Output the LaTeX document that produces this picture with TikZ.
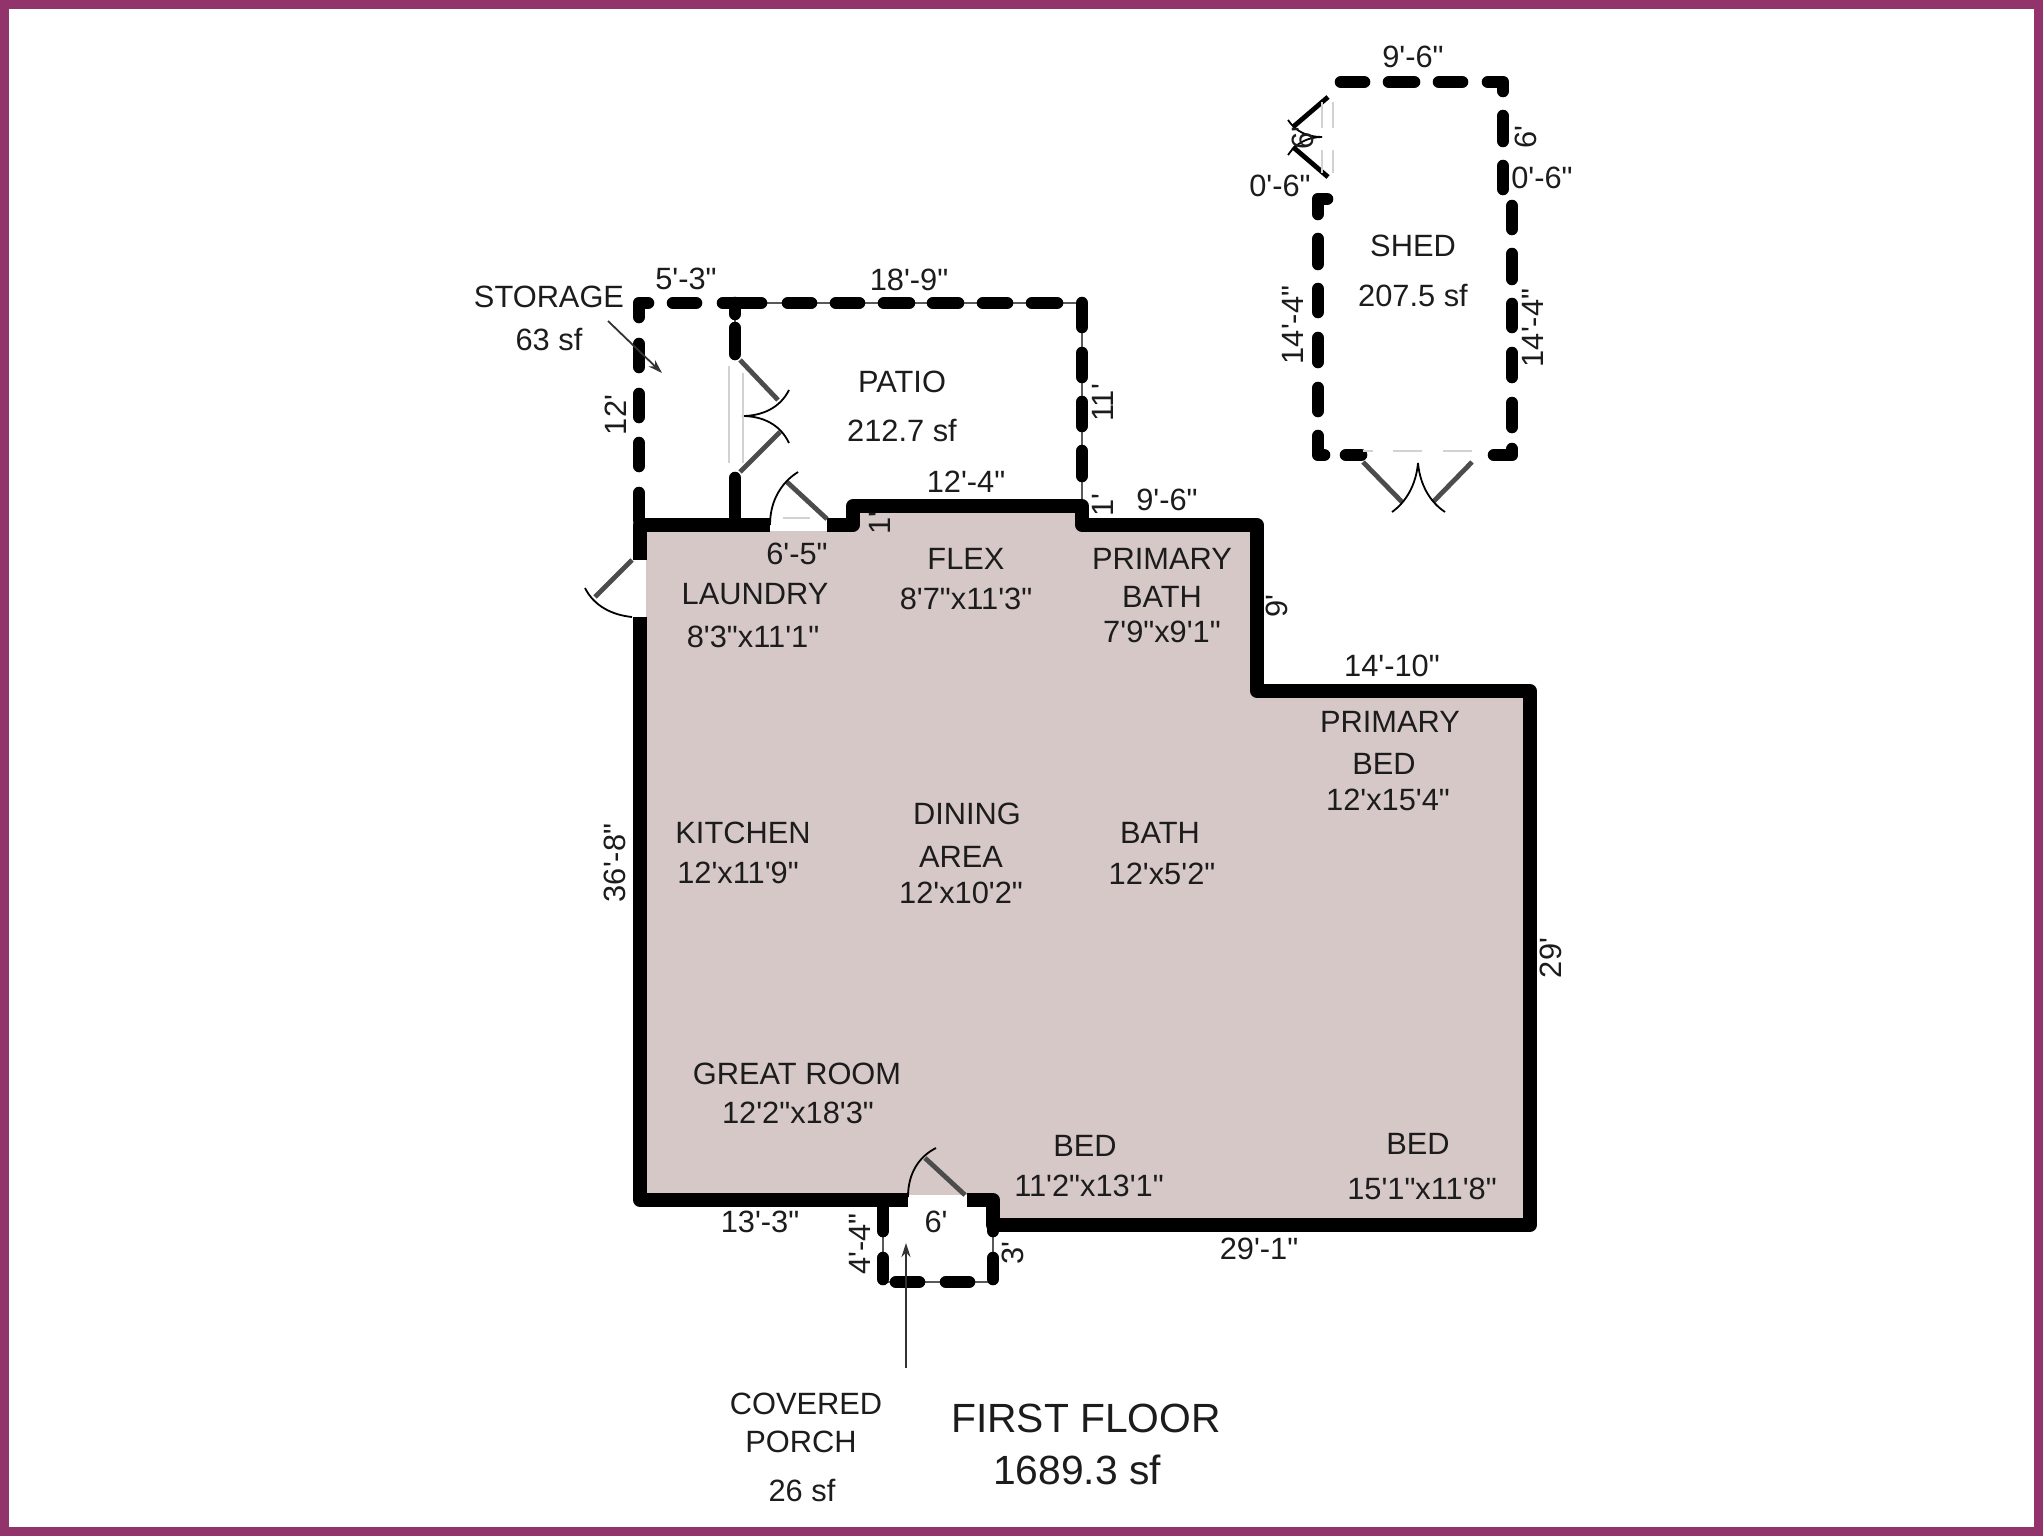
\documentclass[tikz,border=0pt]{standalone}
\usepackage{fontspec}
\usepackage{xcolor}
\usetikzlibrary{arrows.meta}
\newfontfamily\planfont{Liberation Sans}

\begin{document}
\begin{tikzpicture}[x=0.5pt,y=-0.5pt,
  planlabel/.style={font=\planfont\fontsize{15.4}{18}\selectfont,text=planink,inner sep=0pt,text height=11pt,text depth=0pt},
  sidelabel/.style={planlabel,rotate=90},
  floorlabel/.style={planlabel,font=\planfont\fontsize{20.4}{24}\selectfont,text height=14.6pt},
  solidwall/.style={line width=6.9pt,line join=round},
  dashwall/.style={line width=6.3pt,line cap=round,line join=round},
  thinwall/.style={line width=1pt,draw=gray!70!black},
  doorleaf/.style={line width=2.4pt,draw=black!70},
  doorswing/.style={line width=0.9pt},
  doorglass/.style={line width=0.8pt,draw=gray!35},
  pointer/.style={line width=0.9pt,draw=black!80,-{Stealth[length=7pt,width=4.5pt]}}]
\definecolor{planborder}{HTML}{93336B}
\definecolor{planfloor}{HTML}{D7C8C8}
\definecolor{planink}{HTML}{1C1C1C}
\useasboundingbox (0,0) rectangle (2044,1536);
\fill [white] (0,0) rectangle (2044,1536);
\draw [planborder,line width=4.5pt] (4.5,4.5) rectangle (2038,1531);

\fill [planfloor] (640,525) -- (853,525) -- (853,506) -- (1082,506) -- (1082,525) -- (1257,525) -- (1257,691) -- (1530,691) -- (1530,1225) -- (993,1225) -- (993,1200) -- (640,1200) -- cycle;
\fill [white] (770,519) rectangle (827,531);
\fill [white] (908,1195) rectangle (967,1207);
\fill [white] (634,560) rectangle (646,617);

\draw [thinwall] (717,303) -- (1082,303) -- (1082,500);
\draw [thinwall] (735,303) -- (735,330);
\draw [thinwall] (883,1207) -- (883,1282) -- (993,1282) -- (993,1207);

\draw [solidwall] (770,525) -- (640,525) -- (640,560);
\draw [solidwall] (640,617) -- (640,1200) -- (908,1200);
\draw [solidwall] (967,1200) -- (993,1200) -- (993,1225) -- (1530,1225) -- (1530,691) -- (1257,691) -- (1257,525) -- (1082,525) -- (1082,506) -- (853,506) -- (853,525) -- (827,525);

\draw [dashwall] (648,303) -- (639,303) -- (639,317);
\foreach \ya/\yb in {344/367,394/417,443/466,493/520}
  {\draw [dashwall] (639,\ya) -- (639,\yb);}
\foreach \xa/\xb in {673/696,723/761,788/811,836/859,884/909,933/958,983/1007,1032/1057}
  {\draw [dashwall] (\xa,303) -- (\xb,303);}
\foreach \ya/\yb in {303/314,328/354,478/517}
  {\draw [dashwall] (735,\ya) -- (735,\yb);}
\foreach \ya/\yb in {303/327,353/377,402/426,451/476}
  {\draw [dashwall] (1082,\ya) -- (1082,\yb);}
\draw [dashwall] (883,1205) -- (883,1231);
\draw [dashwall] (993,1205) -- (993,1231);
\foreach \xp in {883,993}
  {\draw [dashwall] (\xp,1258) -- (\xp,1279);}
\foreach \xa/\xb in {896/919,946/969}
  {\draw [dashwall] (\xa,1282) -- (\xb,1282);}

\foreach \xa/\xb in {1341/1364,1389/1414,1439/1462}
  {\draw [dashwall] (\xa,82) -- (\xb,82);}
\draw [dashwall] (1488,82) -- (1503,82) -- (1503,91);
\foreach \ya/\yb in {116/141,166/189}
  {\draw [dashwall] (1503,\ya) -- (1503,\yb);}
\foreach \ya/\yb in {206/229,254/279,304/327,353/377,403/427}
  {\draw [dashwall] (1512,\ya) -- (1512,\yb);}
\draw [dashwall] (1494,455) -- (1512,455) -- (1512,449);
\draw [dashwall] (1327,199) -- (1318,199) -- (1318,214);
\foreach \ya/\yb in {239/264,289/312,338/362,388/411}
  {\draw [dashwall] (1318,\ya) -- (1318,\yb);}
\draw [dashwall] (1318,436) -- (1318,455) -- (1324,455);
\draw [dashwall] (1346,455) -- (1361,455);

\draw [doorleaf] (827,519) -- (787,482);
\draw [doorswing] (770,525) .. controls (770,500) and (782,482) .. (798,472);
\draw [doorleaf] (632,560) -- (595,597);
\draw [doorswing] (632,617) .. controls (612,615) and (594,606) .. (585,588);
\draw [doorleaf] (965,1195) -- (925,1158);
\draw [doorswing] (908,1197) .. controls (908,1172) and (920,1156) .. (936,1148);
\draw [doorleaf] (740,360) -- (778,400);
\draw [doorleaf] (740,472) -- (780,432);
\draw [doorswing] (742,416) .. controls (762,416) and (780,408) .. (789,390);
\draw [doorswing] (742,416) .. controls (762,416) and (780,424) .. (789,443);
\draw [doorglass] (729,366) -- (729,463);
\draw [doorglass] (743,373) -- (743,463);
\draw [doorglass] (783,518) -- (810,518);

\draw [doorleaf] (1363,462) -- (1402,502);
\draw [doorleaf] (1472,462) -- (1433,502);
\draw [doorswing] (1418,463) .. controls (1416,485) and (1406,502) .. (1392,512);
\draw [doorswing] (1418,463) .. controls (1420,485) and (1430,502) .. (1445,512);
\foreach \xa/\xb in {1363/1373,1393/1422,1443/1472}
  {\draw [doorglass] (\xa,451) -- (\xb,451);}
\draw [doorleaf,draw=black] (1328,97) -- (1293,127);
\draw [doorleaf,draw=black] (1328,177) -- (1293,147);
\draw [doorswing] (1322,137) .. controls (1308,137) and (1296,132) .. (1288,120);
\draw [doorswing] (1322,137) .. controls (1308,137) and (1296,143) .. (1288,155);
\foreach \ya/\yb in {102/128,150/173}
  {\draw [doorglass] (1333,\ya) -- (1333,\yb);
   \draw [doorglass] (1322,\ya) -- (1322,\yb);}

\coordinate (storagetail) at (608,321);
\coordinate (storagetip) at (662,373);
\draw [pointer] (storagetail) -- (storagetip);
\coordinate (porchtail) at (906,1368);
\coordinate (porchtip) at (906,1243);
\draw [pointer] (porchtail) -- (porchtip);

\foreach \nm/\px/\py/\txt in {
  storagename/549/296/STORAGE,storagearea/549/339/63 sf,storagetop/686/278/5'-3",
  patiotop/909/279/18'-9",pationame/902/381/PATIO,patioarea/902/430/212.7 sf,
  flextop/966/481/12'-4",mudtop/1167/499/9'-6",doorwidth/797/553/6'-5",
  flexname/966/558/FLEX,flexsize/966/598/8'7"x11'3",
  pbathname/1162/558/PRIMARY,pbathnext/1162/596/BATH,pbathsize/1162/631/7'9"x9'1",
  laundryname/755/593/LAUNDRY,laundrysize/753/636/8'3"x11'1",
  bedtop/1392/665/14'-10",pbedname/1390/721/PRIMARY,pbednext/1384/763/BED,pbedsize/1388/799/12'x15'4",
  kitchenname/743/832/KITCHEN,kitchensize/738/872/12'x11'9",
  diningname/967/813/DINING,diningnext/961/856/AREA,diningsize/961/892/12'x10'2",
  bathname/1160/832/BATH,bathsize/1162/873/12'x5'2",
  greatname/797/1073/GREAT ROOM,greatsize/798/1112/12'2"x18'3",
  bedaname/1085/1145/BED,bedasize/1089/1185/11'2"x13'1",
  bedbname/1418/1143/BED,bedbsize/1422/1188/15'1"x11'8",
  frontleft/760/1221/13'-3",porchwidth/936/1221/6',frontright/1259/1248/29'-1",
  porchname/806/1403/COVERED,porchnext/801/1441/PORCH,porcharea/802/1490/26 sf,
  shedtop/1413/57/9'-6",shedright/1542/177/0'-6",shedleft/1280/185/0'-6",
  shedname/1413/245/SHED,shedarea/1413/295/207.5 sf}
  {\node [planlabel] (\nm) at (\px,\py) {\txt};}

\foreach \nm/\px/\py/\txt in {
  storageside/615/415/12',patioside/1102/403/11',stepa/879/523/1',stepb/1102/505/1',
  mudside/1276/606/9',westside/614/863/36'-8",eastside/1550/958/29',
  porchleft/859/1244/4'-4",porchright/1012/1253/3',
  shedupright/1525/137/6',shedupleft/1302/138/6',shedlowleft/1292/325/14'-4",shedlowright/1532/328/14'-4"}
  {\node [sidelabel] (\nm) at (\px,\py) {\txt};}

\node [floorlabel] (floorname) at (1086,1418) {FIRST FLOOR};
\node [floorlabel] (floorarea) at (1077,1470) {1689.3 sf};
\end{tikzpicture}
\end{document}
